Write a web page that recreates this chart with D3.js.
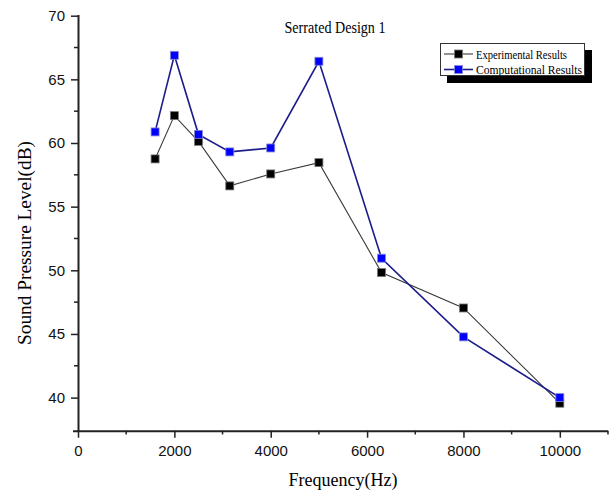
<!DOCTYPE html>
<html>
<head>
<meta charset="utf-8">
<script src="https://cdn.jsdelivr.net/npm/d3@7"></script>
<style>
  body { margin: 0; background: #fff; }
  svg { display: block; }
</style>
</head>
<body>
<script>
// frequencies (Hz) and measured/computed levels (dB)
var freqs = [1600, 2000, 2500, 3150, 4000, 5000, 6300, 8000, 10000];
var experimental = [58.75, 62.15, 60.13, 56.63, 57.57, 58.46, 49.82, 47.04, 39.56];
var computational = [60.87, 66.89, 60.68, 59.3, 59.61, 66.42, 50.95, 44.77, 40.0];
var xTicks = [0, 2000, 4000, 6000, 8000, 10000];
var yTicks = [40, 45, 50, 55, 60, 65, 70];
var seriesNames = ["Experimental Results", "Computational Results"];

var width = 609,
    height = 497;

var svg = d3.select("body")
    .append("svg")
    .attr("width", width)
    .attr("height", height);

var x = d3.scaleLinear()
    .domain([0, 11000])
    .range([78, 608]);

var y = d3.scaleLinear()
    .domain([37.4, 70])
    .range([430.7, 15.7]);

var axisColor = "#222";
var serif = "'Liberation Serif', 'Times New Roman', serif";

// minor ticks
svg.append("g")
    .selectAll("line")
    .data(d3.range(1000, 11001, 2000))
    .enter()
    .append("line")
    .attr("x1", function(d){ return x(d) })
    .attr("x2", function(d){ return x(d) })
    .attr("y1", 430.7)
    .attr("y2", 434.5)
    .attr("stroke", axisColor)
    .attr("stroke-width", 1.5);

svg.append("g")
    .selectAll("line")
    .data(d3.range(42.5, 70, 5))
    .enter()
    .append("line")
    .attr("x1", 78)
    .attr("x2", 74)
    .attr("y1", function(d){ return y(d) })
    .attr("y2", function(d){ return y(d) })
    .attr("stroke", axisColor)
    .attr("stroke-width", 1.5);

// x axis
var xAxis = svg.append("g")
    .attr("transform", "translate(0,430.7)")
    .call(d3.axisBottom(x).tickValues(xTicks).tickSize(7).tickPadding(8).tickFormat(d3.format("d")));

// y axis
var yAxis = svg.append("g")
    .attr("transform", "translate(78,0)")
    .call(d3.axisLeft(y).tickValues(yTicks).tickSize(7).tickPadding(6));

[xAxis, yAxis].forEach(function(a){
    a.select(".domain")
        .attr("stroke", axisColor)
        .attr("stroke-width", 2);
    a.selectAll(".tick line")
        .attr("stroke", axisColor)
        .attr("stroke-width", 1.5);
    a.selectAll(".tick text")
        .style("font-family", "'Liberation Sans', Arial, sans-serif")
        .style("font-size", "15px")
        .attr("fill", "#111");
});
xAxis.select(".domain").attr("d", "M73,0.5H608");
yAxis.select(".domain").attr("d", "M0.5,15H0.5V431");

// axis titles
svg.append("text")
    .attr("x", 343)
    .attr("y", 486)
    .attr("text-anchor", "middle")
    .style("font-family", serif)
    .style("font-size", "18px")
    .text("Frequency(Hz)");

svg.append("text")
    .attr("transform", "translate(31,243) rotate(-90)")
    .attr("text-anchor", "middle")
    .attr("textLength", 204)
    .attr("lengthAdjust", "spacingAndGlyphs")
    .style("font-family", serif)
    .style("font-size", "18.5px")
    .text("Sound Pressure Level(dB)");

svg.append("text")
    .attr("x", 335)
    .attr("y", 33)
    .attr("text-anchor", "middle")
    .attr("textLength", 101)
    .attr("lengthAdjust", "spacingAndGlyphs")
    .style("font-family", serif)
    .style("font-size", "17px")
    .text("Serrated Design 1");

// series
var series = [
    { name: seriesNames[0], values: experimental, line: "#3a3a3a", lw: 1.1, fill: "#000", edge: "#777", tl: 91 },
    { name: seriesNames[1], values: computational, line: "#1c1c8a", lw: 1.6, fill: "#0000ff", edge: "#8a8ad0", tl: 106 }
];

var line = d3.line()
    .x(function(d){ return x(d[0]) })
    .y(function(d){ return y(d[1]) });

series.forEach(function(s){
    var pts = freqs.map(function(f, i){ return [f, s.values[i]] });
    svg.append("path")
        .datum(pts)
        .attr("d", line)
        .attr("fill", "none")
        .attr("stroke", s.line)
        .attr("stroke-width", s.lw);
    svg.append("g")
        .selectAll("rect")
        .data(pts)
        .enter()
        .append("rect")
        .attr("x", function(d){ return x(d[0]) - 4 })
        .attr("y", function(d){ return y(d[1]) - 4 })
        .attr("width", 8)
        .attr("height", 8)
        .attr("fill", s.fill)
        .attr("stroke", s.edge)
        .attr("stroke-width", 0.8);
});

// legend with drop shadow
var legend = svg.append("g");
legend.append("rect")
    .attr("x", 447).attr("y", 50)
    .attr("width", 145).attr("height", 33)
    .attr("fill", "#000");
legend.append("rect")
    .attr("x", 440.5).attr("y", 43.5)
    .attr("width", 144).attr("height", 32)
    .attr("fill", "#fff")
    .attr("stroke", "#333")
    .attr("stroke-width", 1);

series.forEach(function(s, i){
    var ly = 54 + i * 15.5;
    legend.append("line")
        .attr("x1", 444).attr("x2", 473)
        .attr("y1", ly).attr("y2", ly)
        .attr("stroke", s.line)
        .attr("stroke-width", s.lw);
    legend.append("rect")
        .attr("x", 454.5).attr("y", ly - 4)
        .attr("width", 8).attr("height", 8)
        .attr("fill", s.fill)
        .attr("stroke", s.edge)
        .attr("stroke-width", 0.8);
    legend.append("text")
        .attr("x", 476)
        .attr("y", ly + 4.5)
        .attr("textLength", s.tl)
        .attr("lengthAdjust", "spacingAndGlyphs")
        .style("font-family", serif)
        .style("font-size", "13.5px")
        .text(s.name);
});
</script>
</body>
</html>
